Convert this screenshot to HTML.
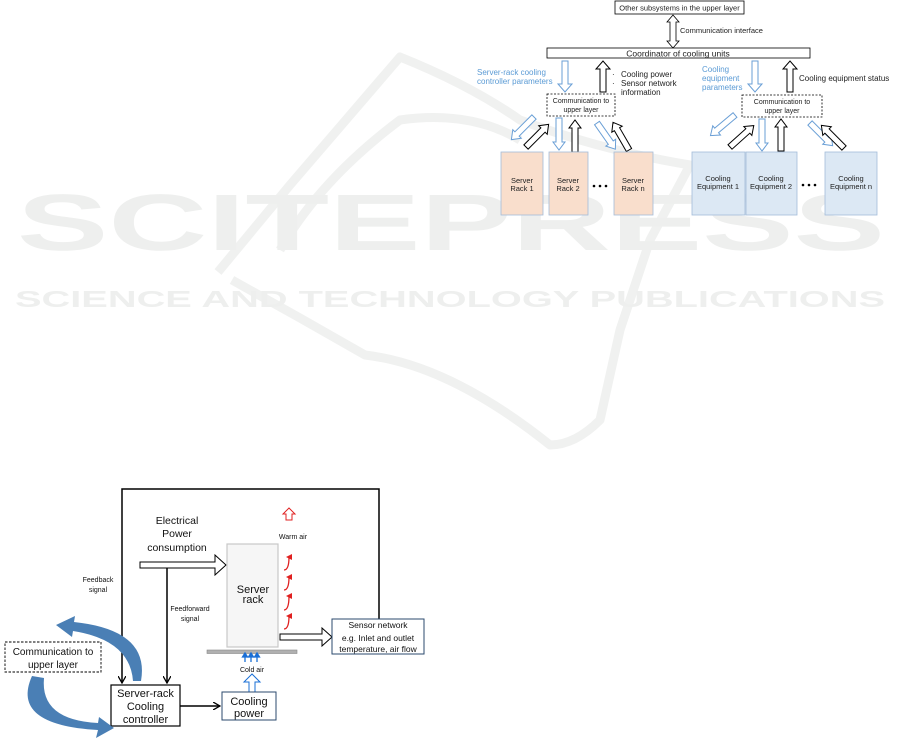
<!DOCTYPE html>
<html><head><meta charset="utf-8"><style>
html,body{margin:0;padding:0;background:#fff;}
svg{display:block;font-family:"Liberation Sans",Arial,sans-serif;}
</style></head><body>
<svg width="901" height="745" viewBox="0 0 901 745" xmlns="http://www.w3.org/2000/svg">
<defs>
<marker id="ah" markerWidth="8" markerHeight="8" refX="7" refY="4" orient="auto" markerUnits="userSpaceOnUse"><path d="M0,0 L7,4 L0,8" fill="none" stroke="#000" stroke-width="1.3"/></marker>
<marker id="rh" markerWidth="6" markerHeight="6" refX="3" refY="3" orient="auto" markerUnits="userSpaceOnUse"><path d="M0,6 L3,0 L6,6 Z" fill="#e02020"/></marker>
</defs>
<!-- watermark -->
<g stroke="#f0f1f0" stroke-width="9" fill="none" stroke-linejoin="round">
<path d="M218 272 L290 185 L400 57 Q470 85 520 120 Q600 150 690 165 L650 240 L620 330 L600 420 Q575 445 550 445 Q450 365 365 355 L300 318 L232 280"/>
<path d="M280 250 Q320 180 400 120 Q470 110 520 140"/>
</g>
<g fill="#eeefee">
<text x="17" y="250" font-size="80" font-weight="bold" textLength="868" lengthAdjust="spacingAndGlyphs">SCITEPRESS</text>
<text x="15" y="307" font-size="23" font-weight="bold" textLength="870" lengthAdjust="spacingAndGlyphs">SCIENCE AND TECHNOLOGY PUBLICATIONS</text>
</g>

<!-- TOP RIGHT DIAGRAM -->
<g font-size="7.5" fill="#222">
<rect x="615" y="1" width="129" height="13" fill="#fff" stroke="#000" stroke-width="0.8"/>
<text x="679.5" y="10.5" text-anchor="middle">Other subsystems in the upper layer</text>
<path d="M673 15 L679 22 L676 22 L676 41 L679 41 L673 48 L667 41 L670 41 L670 22 L667 22 Z" fill="#fff" stroke="#000" stroke-width="0.8"/>
<text x="680" y="33">Communication interface</text>
<rect x="547" y="48" width="263" height="10" fill="#fff" stroke="#000" stroke-width="0.8"/>
<text x="678" y="56.5" text-anchor="middle" font-size="8.5">Coordinator of cooling units</text>

<g fill="#fff" stroke-width="1">
<path d="M562 61 L568 61 L568 84 L572 84 L565 92 L558 84 L562 84 Z" stroke="#6a9fd6"/>
<path d="M600 92 L606 92 L606 69 L610 69 L603 61 L596 69 L600 69 Z" stroke="#000"/>
<path d="M752 61 L758 61 L758 84 L762 84 L755 92 L748 84 L752 84 Z" stroke="#6a9fd6"/>
<path d="M787 92 L793 92 L793 69 L797 69 L790 61 L783 69 L787 69 Z" stroke="#000"/>
</g>
<g fill="#5b9bd5" font-size="8">
<text x="477" y="75">Server-rack cooling</text>
<text x="477" y="84">controller parameters</text>
<text x="702" y="72">Cooling</text>
<text x="702" y="81">equipment</text>
<text x="702" y="90">parameters</text>
</g>
<g font-size="8">
<text x="612" y="77">·</text><text x="621" y="77">Cooling power</text>
<text x="612" y="86">·</text><text x="621" y="86">Sensor network</text>
<text x="621" y="95">information</text>
<text x="799" y="81">Cooling equipment status</text>
</g>
<rect x="547" y="94" width="68" height="22" fill="#fff" stroke="#000" stroke-width="0.8" stroke-dasharray="2,1.5"/>
<text x="581" y="103" text-anchor="middle" font-size="7">Communication to</text>
<text x="581" y="112" text-anchor="middle" font-size="7">upper layer</text>
<rect x="742" y="95" width="80" height="22" fill="#fff" stroke="#000" stroke-width="0.8" stroke-dasharray="2,1.5"/>
<text x="782" y="104" text-anchor="middle" font-size="7">Communication to</text>
<text x="782" y="113" text-anchor="middle" font-size="7">upper layer</text>

<g fill="#fff" stroke-width="1">
<g stroke="#6a9fd6">
<path d="M0 -3 L24 -3 L24 -6 L32 0 L24 6 L24 3 L0 3 Z" transform="translate(534,117) rotate(135)"/>
<path d="M0 -3 L24 -3 L24 -6 L32 0 L24 6 L24 3 L0 3 Z" transform="translate(559,118) rotate(90)"/>
<path d="M0 -3 L24 -3 L24 -6 L32 0 L24 6 L24 3 L0 3 Z" transform="translate(597,123) rotate(55)"/>
<path d="M0 -3 L24 -3 L24 -6 L32 0 L24 6 L24 3 L0 3 Z" transform="translate(735,115) rotate(140)"/>
<path d="M0 -3 L24 -3 L24 -6 L32 0 L24 6 L24 3 L0 3 Z" transform="translate(762,119) rotate(90)"/>
<path d="M0 -3 L24 -3 L24 -6 L32 0 L24 6 L24 3 L0 3 Z" transform="translate(810,123) rotate(45)"/>
</g>
<g stroke="#000">
<path d="M0 -3 L24 -3 L24 -6 L32 0 L24 6 L24 3 L0 3 Z" transform="translate(526,147) rotate(-45)"/>
<path d="M0 -3 L24 -3 L24 -6 L32 0 L24 6 L24 3 L0 3 Z" transform="translate(575,152) rotate(-90)"/>
<path d="M0 -3 L24 -3 L24 -6 L32 0 L24 6 L24 3 L0 3 Z" transform="translate(629,150) rotate(-120)"/>
<path d="M0 -3 L24 -3 L24 -6 L32 0 L24 6 L24 3 L0 3 Z" transform="translate(730,147) rotate(-42)"/>
<path d="M0 -3 L24 -3 L24 -6 L32 0 L24 6 L24 3 L0 3 Z" transform="translate(781,151) rotate(-90)"/>
<path d="M0 -3 L24 -3 L24 -6 L32 0 L24 6 L24 3 L0 3 Z" transform="translate(844,148) rotate(-135)"/>
</g>
</g>

<g stroke="#a3bcd9" stroke-width="0.8">
<rect x="501" y="152" width="42" height="63" fill="#f9decc"/>
<rect x="549" y="152" width="39" height="63" fill="#f9decc"/>
<rect x="614" y="152" width="39" height="63" fill="#f9decc"/>
<rect x="692" y="152" width="53" height="63" fill="#dce8f4"/>
<rect x="746" y="152" width="51" height="63" fill="#dce8f4"/>
<rect x="825" y="152" width="52" height="63" fill="#dce8f4"/>
</g>
<g font-size="7.5" text-anchor="middle">
<text x="522" y="183">Server</text><text x="522" y="191">Rack  1</text>
<text x="568" y="183">Server</text><text x="568" y="191">Rack  2</text>
<text x="633" y="183">Server</text><text x="633" y="191">Rack  n</text>
<text x="718" y="181">Cooling</text><text x="718" y="189">Equipment  1</text>
<text x="771" y="181">Cooling</text><text x="771" y="189">Equipment  2</text>
<text x="851" y="181">Cooling</text><text x="851" y="189">Equipment  n</text>
</g>
<g fill="#000"><circle cx="594" cy="186" r="1.3"/><circle cx="600" cy="186" r="1.3"/><circle cx="606" cy="186" r="1.3"/>
<circle cx="803" cy="185" r="1.3"/><circle cx="809" cy="185" r="1.3"/><circle cx="815" cy="185" r="1.3"/></g>
</g>

<!-- BOTTOM LEFT DIAGRAM -->
<g fill="#111">
<path d="M379 619 L379 489 L122 489 L122 683" fill="none" stroke="#000" stroke-width="1.5" marker-end="url(#ah)"/>
<path d="M167 568 L167 683" fill="none" stroke="#000" stroke-width="1.5" marker-end="url(#ah)"/>
<path d="M180 706 L220 706" fill="none" stroke="#000" stroke-width="1.5" marker-end="url(#ah)"/>
<g font-size="10.5" text-anchor="middle">
<text x="177" y="524">Electrical</text>
<text x="177" y="537">Power</text>
<text x="177" y="551">consumption</text>
</g>
<path d="M140 562 L215 562 L215 555 L226 565 L215 575 L215 568 L140 568 Z" fill="#fff" stroke="#000" stroke-width="1"/>
<g font-size="7" text-anchor="middle">
<text x="98" y="582">Feedback</text><text x="98" y="592">signal</text>
<text x="190" y="611">Feedforward</text><text x="190" y="621">signal</text>
<text x="293" y="539">Warm air</text>
<text x="252" y="672">Cold air</text>
</g>
<rect x="227" y="544" width="51" height="103" fill="#f6f6f6" stroke="#c8c8c8" stroke-width="1.2"/>
<text x="253" y="593" font-size="11" text-anchor="middle">Server</text>
<text x="253" y="603" font-size="11" text-anchor="middle">rack</text>
<rect x="207" y="650" width="90" height="3.5" fill="#b0b0b0" stroke="#888" stroke-width="0.6"/>
<path d="M289 508 L295 514 L292 514 L292 520 L286 520 L286 514 L283 514 Z" fill="#fff" stroke="#e02020" stroke-width="1"/>
<g stroke="#e02020" stroke-width="1.3" fill="none">
<path d="M284 570 Q289 570 289 557" marker-end="url(#rh)"/>
<path d="M284 590 Q289 590 289 577" marker-end="url(#rh)"/>
<path d="M284 610 Q289 610 289 596" marker-end="url(#rh)"/>
<path d="M284 629 Q289 629 289 616" marker-end="url(#rh)"/>
</g>
<g stroke="#1a6fd6" stroke-width="1.3" fill="#1a6fd6">
<path d="M245 662 L245 656"/><path d="M242.5 657 L245 653 L247.5 657 Z"/>
<path d="M251 662 L251 656"/><path d="M248.5 657 L251 653 L253.5 657 Z"/>
<path d="M257 662 L257 656"/><path d="M254.5 657 L257 653 L259.5 657 Z"/>
</g>
<path d="M249 692 L249 682 L244 682 L252 674 L260 682 L255 682 L255 692 Z" fill="#fff" stroke="#1a6fd6" stroke-width="1"/>
<path d="M280 634 L322 634 L322 628 L332 637 L322 646 L322 640 L280 640 Z" fill="#fff" stroke="#000" stroke-width="1"/>
<rect x="332" y="619" width="92" height="35" fill="#fff" stroke="#2b4a6e" stroke-width="1"/>
<g font-size="8.5" text-anchor="middle">
<text x="378" y="628">Sensor  network</text>
<text x="378" y="641">e.g. Inlet and outlet</text>
<text x="378" y="652">temperature, air flow</text>
</g>
<rect x="111" y="685" width="69" height="41" fill="#fff" stroke="#000" stroke-width="1.2"/>
<g font-size="11" text-anchor="middle">
<text x="145.5" y="697">Server-rack</text>
<text x="145.5" y="710">Cooling</text>
<text x="145.5" y="723">controller</text>
</g>
<rect x="222" y="692" width="54" height="28" fill="#fff" stroke="#2b4a6e" stroke-width="1"/>
<text x="249" y="705" font-size="11" text-anchor="middle">Cooling</text>
<text x="249" y="717" font-size="11" text-anchor="middle">power</text>
<rect x="5" y="642" width="96" height="30" fill="#fff" stroke="#000" stroke-width="0.9" stroke-dasharray="2.5,1.5"/>
<text x="53" y="655" font-size="10" text-anchor="middle">Communication to</text>
<text x="53" y="668" font-size="10" text-anchor="middle">upper layer</text>
<path d="M141 681 Q150 630 74 622 L75 616 L56 625 L72 637 L73 631 Q130 640 133 681 Z" fill="#4a7fb5"/>
<path d="M32 676 Q10 725 98 730 L96 738 L114 728 L99 717 L98 723 Q40 720 44 678 Z" fill="#4a7fb5"/>
</g>
</svg>
</body></html>
